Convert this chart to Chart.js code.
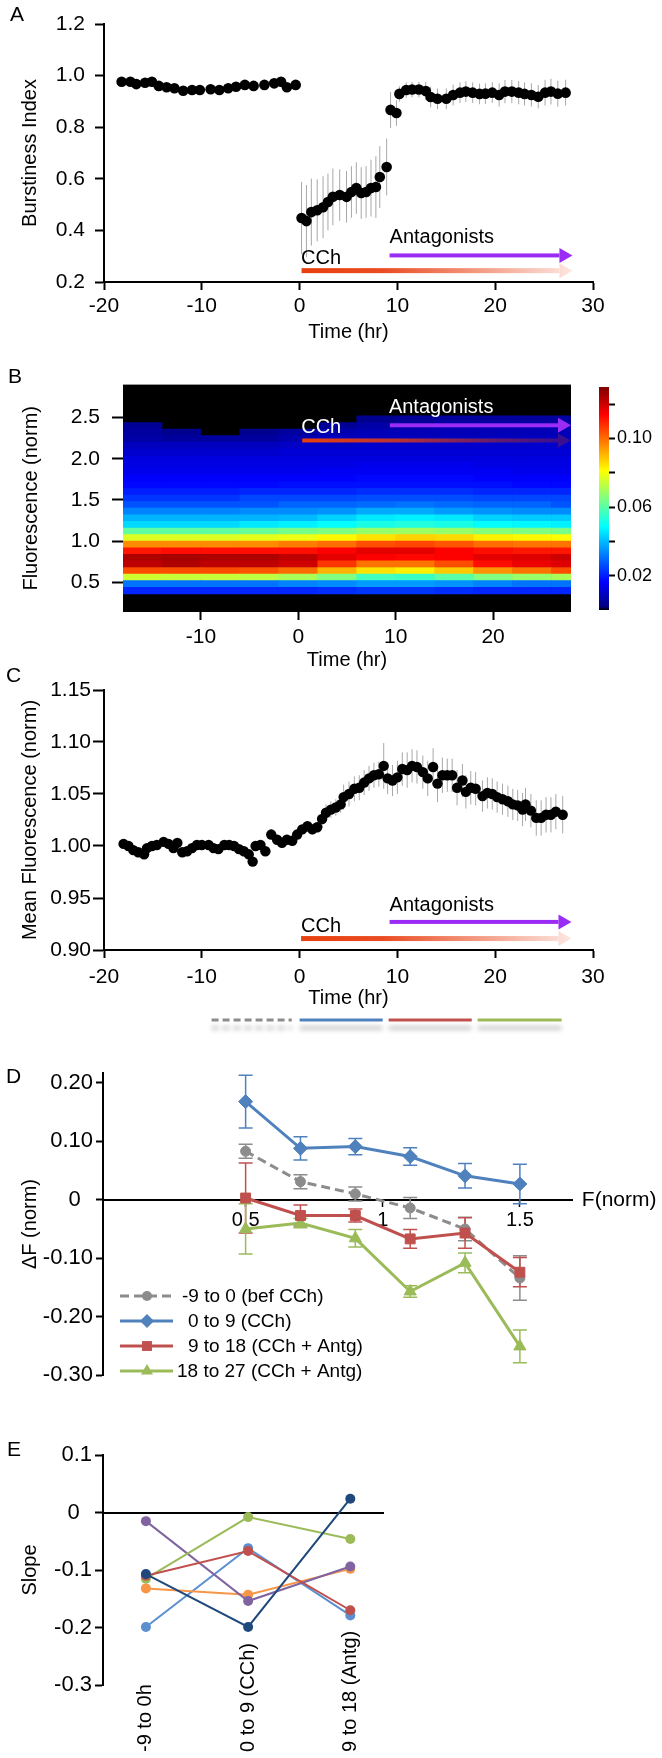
<!DOCTYPE html>
<html>
<head>
<meta charset="utf-8">
<script src="https://cdn.jsdelivr.net/npm/chart.js@4.4.1/dist/chart.umd.min.js"></script>
<style>
  body { margin: 0; background: #fff; }
  #fig { position: relative; width: 662px; height: 1758px; overflow: hidden; background: #fff;
         font-family: 'Liberation Sans', Arial, sans-serif; }
  #fig canvas { position: absolute; }
  .lbl { position: absolute; font-size: 21px; line-height: 21px; color: #000; }
</style>
</head>
<body>
<div id="fig">
  <canvas id="chartA" width="662" height="345" style="left:0;top:0"></canvas>
  <canvas id="chartB" width="662" height="312" style="left:0;top:360px"></canvas>
  <canvas id="chartCb" width="102" height="312" style="left:560px;top:360px"></canvas>
  <canvas id="chartC" width="662" height="370" style="left:0;top:672px"></canvas>
  <canvas id="chartD" width="662" height="350" style="left:0;top:1045px"></canvas>
  <canvas id="chartE" width="662" height="358" style="left:0;top:1400px"></canvas>
  <div class="lbl" style="left:10px;top:3px">A</div>
  <div class="lbl" style="left:8px;top:365px">B</div>
  <div class="lbl" style="left:6px;top:664px">C</div>
  <div class="lbl" style="left:6px;top:1065px">D</div>
  <div class="lbl" style="left:7px;top:1438px">E</div>
</div>
<script>
// ---- Panel A: burstiness index ----
const tA = [-18.2, -17.3, -16.7, -15.8, -15.1, -14.4, -13.6, -12.8, -11.9, -11.0, -10.2, -9.1, -8.2, -7.3, -6.5, -5.6, -4.7, -3.6, -2.6, -1.9, -1.3, -0.4,
  0.2, 0.7, 1.2, 1.8, 2.4, 2.9, 3.4, 4.1, 4.8, 5.3, 5.8, 6.3, 6.8, 7.3, 7.8, 8.2, 8.9,
  9.3, 9.9, 10.2, 10.9, 11.5, 12.2, 12.9, 13.4, 14.1, 15.0, 15.7, 16.4, 17.0, 17.7, 18.4, 19.0, 19.7, 20.4, 21.0, 21.7, 22.4, 23.0, 23.7, 24.4, 25.1, 25.7, 26.4, 27.2];
const burstA = [0.976, 0.976, 0.967, 0.972, 0.976, 0.960, 0.955, 0.951, 0.941, 0.944, 0.944, 0.947, 0.944, 0.951, 0.957, 0.964, 0.960, 0.964, 0.970, 0.976, 0.955, 0.964,
  0.448, 0.436, 0.471, 0.478, 0.490, 0.510, 0.530, 0.537, 0.530, 0.549, 0.564, 0.545, 0.549, 0.564, 0.568, 0.607, 0.646,
  0.867, 0.855, 0.929, 0.944, 0.946, 0.946, 0.940, 0.917, 0.910, 0.910, 0.925, 0.934, 0.938, 0.934, 0.929, 0.930, 0.934, 0.925, 0.938, 0.938, 0.934, 0.929, 0.925, 0.918, 0.934, 0.938, 0.930, 0.934];
const burstErrA = [0.012, 0.012, 0.012, 0.012, 0.012, 0.014, 0.014, 0.015, 0.016, 0.016, 0.016, 0.016, 0.015, 0.015, 0.014, 0.014, 0.013, 0.013, 0.012, 0.012, 0.014, 0.012,
  0.14, 0.14, 0.13, 0.12, 0.12, 0.11, 0.11, 0.10, 0.10, 0.10, 0.10, 0.10, 0.10, 0.11, 0.12, 0.12, 0.11,
  0.07, 0.05, 0.03, 0.03, 0.03, 0.03, 0.035, 0.04, 0.04, 0.04, 0.04, 0.04, 0.04, 0.04, 0.04, 0.04, 0.04, 0.045, 0.045, 0.045, 0.045, 0.045, 0.045, 0.045, 0.05, 0.05, 0.05, 0.05];
const yTicksA = [0.2, 0.4, 0.6, 0.8, 1.0, 1.2];
const timeTicks = [-20, -10, 0, 10, 20, 30];

// ---- Panel B: fluorescence distribution heat map ----
const heatT = [-16, -12, -8, -4, 0, 4, 8, 12, 16, 20, 24, 28];
const heatBins = [0.36, 0.44, 0.52, 0.60, 0.68, 0.76, 0.84, 0.92, 1.00, 1.08, 1.16, 1.24, 1.32, 1.40, 1.48, 1.56, 1.64, 1.72, 1.80, 1.88, 1.96, 2.04, 2.12, 2.20, 2.28, 2.36, 2.44];
const binW = 0.08;
const heatDensity = [
  [0.021, 0.021, 0.021, 0.021, 0.021, 0.022, 0.023, 0.023, 0.022, 0.021, 0.021, 0.021],
  [0.031, 0.031, 0.031, 0.031, 0.033, 0.034, 0.036, 0.036, 0.035, 0.033, 0.031, 0.031],
  [0.075, 0.074, 0.074, 0.073, 0.070, 0.065, 0.057, 0.056, 0.060, 0.065, 0.068, 0.070],
  [0.104, 0.104, 0.104, 0.103, 0.100, 0.091, 0.085, 0.083, 0.088, 0.095, 0.099, 0.104],
  [0.122, 0.124, 0.122, 0.122, 0.120, 0.107, 0.099, 0.099, 0.104, 0.112, 0.116, 0.118],
  [0.124, 0.125, 0.124, 0.124, 0.122, 0.117, 0.114, 0.113, 0.114, 0.117, 0.118, 0.120],
  [0.111, 0.112, 0.112, 0.112, 0.112, 0.114, 0.117, 0.117, 0.114, 0.112, 0.111, 0.111],
  [0.096, 0.096, 0.096, 0.096, 0.098, 0.100, 0.104, 0.105, 0.103, 0.100, 0.099, 0.099],
  [0.077, 0.077, 0.077, 0.078, 0.079, 0.082, 0.085, 0.087, 0.086, 0.083, 0.082, 0.081],
  [0.061, 0.061, 0.061, 0.062, 0.064, 0.065, 0.068, 0.069, 0.068, 0.066, 0.065, 0.064],
  [0.044, 0.044, 0.044, 0.046, 0.047, 0.049, 0.052, 0.053, 0.052, 0.049, 0.048, 0.047],
  [0.039, 0.039, 0.039, 0.039, 0.040, 0.043, 0.046, 0.047, 0.046, 0.043, 0.042, 0.042],
  [0.033, 0.033, 0.033, 0.034, 0.034, 0.035, 0.038, 0.038, 0.036, 0.035, 0.034, 0.034],
  [0.027, 0.027, 0.027, 0.027, 0.029, 0.029, 0.030, 0.031, 0.030, 0.029, 0.029, 0.027],
  [0.023, 0.023, 0.023, 0.025, 0.025, 0.025, 0.026, 0.026, 0.026, 0.025, 0.025, 0.025],
  [0.020, 0.020, 0.020, 0.021, 0.021, 0.021, 0.022, 0.022, 0.022, 0.021, 0.021, 0.021],
  [0.017, 0.017, 0.017, 0.017, 0.018, 0.018, 0.018, 0.018, 0.018, 0.018, 0.017, 0.017],
  [0.016, 0.016, 0.016, 0.016, 0.016, 0.016, 0.017, 0.017, 0.017, 0.016, 0.016, 0.016],
  [0.014, 0.014, 0.014, 0.014, 0.014, 0.015, 0.015, 0.015, 0.015, 0.015, 0.014, 0.014],
  [0.013, 0.013, 0.013, 0.013, 0.013, 0.013, 0.014, 0.014, 0.014, 0.013, 0.013, 0.013],
  [0.012, 0.012, 0.012, 0.012, 0.012, 0.012, 0.012, 0.012, 0.012, 0.012, 0.012, 0.012],
  [0.010, 0.010, 0.010, 0.010, 0.011, 0.011, 0.011, 0.011, 0.011, 0.011, 0.011, 0.011],
  [0.008, 0.008, 0.008, 0.008, 0.009, 0.009, 0.010, 0.010, 0.010, 0.010, 0.010, 0.010],
  [0.005, 0.004, 0.004, 0.004, 0.006, 0.008, 0.008, 0.008, 0.008, 0.008, 0.008, 0.008],
  [0.004, 0.002, 0, 0.002, 0.004, 0.006, 0.007, 0.007, 0.007, 0.007, 0.007, 0.007],
  [0.003, 0, 0, 0, 0, 0.003, 0.005, 0.005, 0.006, 0.006, 0.006, 0.006],
  [0, 0, 0, 0, 0, 0, 0.002, 0.003, 0.004, 0.004, 0.004, 0.004]
];
const yTicksB = [0.5, 1.0, 1.5, 2.0, 2.5];
const xTicksB = [-10, 0, 10, 20];
const cbTicks = [0.02, 0.04, 0.06, 0.08, 0.10, 0.12];
const cbLabelled = [0.02, 0.06, 0.10];
const cbMax = 0.13;

// ---- Panel C: mean fluorescence ----
const tC = [-18, -17.5, -17, -16.5, -15.9, -15.6, -15.1, -14.6, -13.9, -13.4, -12.9, -12.5, -12, -11.5, -11, -10.5, -10, -9.3, -8.8, -8.3,
  -7.7, -7.2, -6.7, -6.2, -5.7, -5.2, -4.8, -4.5, -4.0, -3.5, -2.9, -2.3, -1.8, -1.3, -0.75, -0.25, 0.27, 0.8, 1.3, 1.8,
  2.3, 2.7, 3.2, 3.7, 4.2, 4.5, 5.05, 5.6, 6.1, 6.6, 7.1, 7.6, 8.1, 8.6, 9.0, 9.5, 10, 10.5, 11, 11.5,
  12, 12.6, 13.1, 13.65, 14.1, 14.6, 15.1, 15.6, 16.1, 16.65, 17, 17.5, 18, 18.7, 19.2, 19.7, 20.2, 20.75, 21.3, 21.8,
  22.3, 22.8, 23.1, 23.65, 24.2, 24.7, 25.2, 25.7, 26.2, 26.9];
const meanFC = [1.002, 1.000, 0.996, 0.994, 0.992, 0.998, 1.000, 1.001, 1.004, 1.002, 0.998, 1.003, 0.994, 0.995, 0.998, 1.001, 1.001, 1.001, 0.998, 0.997,
  1.001, 1.001, 1.000, 0.997, 0.995, 0.992, 0.985, 1.000, 1.001, 0.995, 1.011, 1.006, 1.003, 1.006, 1.005, 1.011, 1.016, 1.019, 1.016, 1.018,
  1.026, 1.032, 1.035, 1.037, 1.040, 1.047, 1.050, 1.055, 1.056, 1.061, 1.065, 1.068, 1.069, 1.077, 1.065, 1.063, 1.066, 1.074, 1.073, 1.077,
  1.076, 1.071, 1.065, 1.076, 1.060, 1.068, 1.068, 1.068, 1.056, 1.063, 1.052, 1.056, 1.055, 1.048, 1.051, 1.050, 1.047, 1.045, 1.043, 1.040,
  1.039, 1.035, 1.040, 1.034, 1.027, 1.027, 1.030, 1.030, 1.033, 1.030];
const meanFErrC = [0.003, 0.003, 0.003, 0.003, 0.003, 0.003, 0.003, 0.003, 0.003, 0.003, 0.003, 0.003, 0.003, 0.003, 0.003, 0.003, 0.003, 0.003, 0.003, 0.003,
  0.003, 0.003, 0.003, 0.003, 0.003, 0.003, 0.003, 0.003, 0.003, 0.003, 0.005, 0.005, 0.005, 0.005, 0.005, 0.005, 0.005, 0.005, 0.005, 0.005,
  0.008, 0.008, 0.008, 0.008, 0.008, 0.012, 0.012, 0.012, 0.012, 0.012, 0.012, 0.012, 0.012, 0.022, 0.015, 0.015, 0.016, 0.016, 0.017, 0.016,
  0.016, 0.016, 0.017, 0.018, 0.018, 0.017, 0.016, 0.016, 0.017, 0.016, 0.016, 0.016, 0.016, 0.015, 0.015, 0.015, 0.015, 0.015, 0.015, 0.015,
  0.015, 0.016, 0.016, 0.016, 0.017, 0.017, 0.017, 0.017, 0.017, 0.018];
const yTicksC = [0.90, 0.95, 1.00, 1.05, 1.10, 1.15];

// ---- Panel D: delta F vs F ----
const fNormD = [0.5, 0.7, 0.9, 1.1, 1.3, 1.5];
const dFpre = [0.083, 0.031, 0.010, -0.014, -0.050, -0.134];
const dFpreErr = [0.012, 0.012, 0.012, 0.018, 0.020, 0.038];
const dFcch = [0.168, 0.088, 0.091, 0.074, 0.041, 0.027];
const dFcchErr = [0.045, 0.020, 0.014, 0.015, 0.021, 0.034];
const dFant1 = [0.003, -0.027, -0.027, -0.067, -0.057, -0.124];
const dFant1Err = [0.060, 0.018, 0.011, 0.016, 0.026, 0.025];
const dFant2 = [-0.050, -0.040, -0.066, -0.157, -0.108, -0.251];
const dFant2Err = [0.043, 0.008, 0.015, 0.010, 0.017, 0.028];
const yTicksD = [-0.3, -0.2, -0.1, 0, 0.1, 0.2];
const xTicksD = [0.5, 1, 1.5];
const legendD = ['-9 to 0 (bef CCh)', '0 to 9 (CCh)', '9 to 18 (CCh + Antg)', '18 to 27 (CCh + Antg)'];

// ---- Panel E: slopes per culture ----
const periodsE = ['-9 to 0h', '0 to 9 (CCh)', '9 to 18 (Antg)'];
const slopeNavy = [-0.107, -0.199, 0.024];
const slopeRed = [-0.110, -0.067, -0.170];
const slopeGreen = [-0.115, -0.008, -0.046];
const slopePurple = [-0.015, -0.154, -0.094];
const slopeOrange = [-0.132, -0.143, -0.098];
const slopeBlue = [-0.199, -0.062, -0.179];
const yTicksE = [-0.3, -0.2, -0.1, 0, 0.1];

const FONT = "'Liberation Sans', Arial, sans-serif";
Chart.defaults.font.family = FONT;
Chart.defaults.font.size = 21;
Chart.defaults.color = '#000';
Chart.defaults.animation = false;
Chart.defaults.plugins.legend.display = false;
Chart.defaults.plugins.tooltip.enabled = false;

const setTicks = arr => scale => { scale.ticks = arr.map(v => ({ value: v })); };
const fixW = w => s => { s.width = w; };
const fixH = h => s => { s.height = h; };
const pts = (xs, ys) => xs.map((x, i) => ({ x: x, y: ys[i] }));

function jet(v) {
  if (!v || v <= 0) return 'rgba(0,0,0,0)';
  const f = Math.min(1, v / cbMax);
  const c = u => Math.round(255 * Math.max(0, Math.min(1, u)));
  return 'rgb(' + c(1.5 - Math.abs(4 * f - 3)) + ',' + c(1.5 - Math.abs(4 * f - 2)) + ',' + c(1.5 - Math.abs(4 * f - 1)) + ')';
}

// error bars, drawn under the markers
const errBars = {
  id: 'errBars',
  beforeDatasetsDraw(chart, args, opts) {
    const { ctx } = chart;
    const xs = chart.scales.x, ys = chart.scales.y;
    ctx.save();
    (opts.sets || []).forEach(s => {
      const data = chart.data.datasets[s.ds].data;
      ctx.strokeStyle = s.color;
      ctx.lineWidth = s.width || 1;
      data.forEach((p, i) => {
        const px = xs.getPixelForValue(p.x);
        const top = ys.getPixelForValue(p.y + s.err[i]);
        const bot = ys.getPixelForValue(p.y - s.err[i]);
        ctx.beginPath();
        ctx.moveTo(px, top); ctx.lineTo(px, bot);
        if (s.cap) {
          ctx.moveTo(px - s.cap, top); ctx.lineTo(px + s.cap, top);
          ctx.moveTo(px - s.cap, bot); ctx.lineTo(px + s.cap, bot);
        }
        ctx.stroke();
      });
    });
    ctx.restore();
  }
};

// treatment arrows and free text placed in data units
const annot = {
  id: 'annot',
  afterDatasetsDraw(chart, args, opts) {
    const { ctx } = chart;
    const xs = chart.scales.x, ys = chart.scales.y;
    ctx.save();
    (opts.arrows || []).forEach(a => {
      const x0 = xs.getPixelForValue(a.x0), x1 = xs.getPixelForValue(a.x1), y = ys.getPixelForValue(a.y);
      const g = ctx.createLinearGradient(x0, 0, x1, 0);
      a.stops.forEach(s => g.addColorStop(s[0], s[1]));
      ctx.fillStyle = g;
      ctx.fillRect(x0, y - a.w / 2, x1 - a.head - x0, a.w);
      ctx.beginPath();
      ctx.moveTo(x1 - a.head, y - a.headW / 2);
      ctx.lineTo(x1, y);
      ctx.lineTo(x1 - a.head, y + a.headW / 2);
      ctx.closePath();
      ctx.fill();
    });
    (opts.texts || []).forEach(t => {
      ctx.font = (t.size || 20) + 'px ' + FONT;
      ctx.fillStyle = t.color || '#000';
      ctx.textAlign = 'left';
      ctx.textBaseline = 'middle';
      ctx.fillText(t.text, xs.getPixelForValue(t.x), ys.getPixelForValue(t.y));
    });
    ctx.restore();
  }
};

const redStops = [[0, '#e8400f'], [0.3, '#ea4c22'], [1, '#fde6e1']];
const purpleStops = [[0, '#9b2cf5'], [1, '#9b2cf5']];

function blackAxis(extra) {
  return Object.assign({
    type: 'linear',
    grid: { drawOnChartArea: false, tickLength: 8, tickWidth: 2, tickColor: '#000' },
    border: { color: '#000', width: 2 }
  }, extra);
}

// ---------- A ----------
new Chart(document.getElementById('chartA'), {
  type: 'scatter',
  data: { datasets: [{ data: pts(tA, burstA), pointRadius: 5.3, pointBackgroundColor: '#000', pointBorderWidth: 0 }] },
  plugins: [errBars, annot],
  options: {
    responsive: false, devicePixelRatio: 1,
    layout: { padding: { left: 0, right: 69, top: 24, bottom: 0 } },
    scales: {
      x: blackAxis({
        min: -20, max: 30, afterBuildTicks: setTicks(timeTicks), afterFit: fixH(63),
        ticks: { padding: 4, maxRotation: 0, autoSkip: false },
        title: { display: true, text: 'Time (hr)', font: { size: 20 }, padding: { top: 0, bottom: 1 } }
      }),
      y: blackAxis({
        min: 0.2, max: 1.2, afterBuildTicks: setTicks(yTicksA), afterFit: fixW(104),
        ticks: { padding: 10, autoSkip: false, callback: v => v.toFixed(1) },
        grid: { drawOnChartArea: false, tickLength: 9, tickWidth: 2, tickColor: '#000' },
        title: { display: true, text: 'Burstiness Index', font: { size: 20 }, padding: { top: 18, bottom: 0 } }
      })
    },
    plugins: {
      errBars: { sets: [{ ds: 0, err: burstErrA, color: '#a8a8a8', width: 1 }] },
      annot: {
        arrows: [
          { x0: 0.2, x1: 27.9, y: 0.244, w: 5, head: 13, headW: 15, stops: redStops },
          { x0: 9.2, x1: 27.9, y: 0.303, w: 4, head: 13, headW: 15, stops: purpleStops }
        ],
        texts: [
          { text: 'CCh', x: 0.15, y: 0.292, size: 20 },
          { text: 'Antagonists', x: 9.2, y: 0.373, size: 20 }
        ]
      }
    }
  }
});

// ---------- B ----------
const heatBg = {
  id: 'heatBg',
  beforeDatasetsDraw(chart) {
    const { ctx, chartArea: a } = chart;
    ctx.save();
    ctx.fillStyle = '#000';
    ctx.fillRect(a.left, a.top, a.right - a.left, a.bottom - a.top);
    ctx.restore();
  }
};
const heatSets = heatBins.map((lo, i) => ({
  data: heatT.map(t => ({ x: t, y: [lo, lo + binW] })),
  backgroundColor: heatDensity[i].map(jet),
  borderWidth: 0,
  barPercentage: 1,
  categoryPercentage: 1,
  grouped: false
}));
new Chart(document.getElementById('chartB'), {
  type: 'bar',
  data: { datasets: heatSets },
  plugins: [heatBg, annot],
  options: {
    responsive: false, devicePixelRatio: 1,
    layout: { padding: { left: 0, right: 91, top: 22, bottom: 0 } },
    scales: {
      x: {
        type: 'linear', min: -18, max: 28, offset: false,
        afterBuildTicks: setTicks(xTicksB), afterFit: fixH(60),
        ticks: { padding: 5, maxRotation: 0, autoSkip: false },
        grid: { offset: false, drawOnChartArea: false, tickLength: 8, tickWidth: 2, tickColor: '#000' },
        border: { display: false },
        title: { display: true, text: 'Time (hr)', font: { size: 20 }, padding: { top: 0, bottom: 0 } }
      },
      y: {
        type: 'linear', min: 0.14, max: 2.9,
        afterBuildTicks: setTicks(yTicksB), afterFit: fixW(123),
        ticks: { padding: 12, autoSkip: false, callback: v => v.toFixed(1) },
        grid: { drawOnChartArea: false, tickLength: 11, tickWidth: 2, tickColor: '#000' },
        border: { display: false },
        title: { display: true, text: 'Fluorescence (norm)', font: { size: 20 }, padding: { top: 19, bottom: 0 } }
      }
    },
    plugins: {
      annot: {
        arrows: [
          { x0: 0.4, x1: 28, y: 2.222, w: 4, head: 13, headW: 14, stops: [[0, 'rgba(232,64,15,1)'], [0.35, 'rgba(232,64,15,0.8)'], [1, 'rgba(150,40,60,0.35)']] },
          { x0: 9.4, x1: 28, y: 2.406, w: 4, head: 13, headW: 15, stops: purpleStops }
        ],
        texts: [
          { text: 'CCh', x: 0.3, y: 2.375, size: 20, color: '#fff' },
          { text: 'Antagonists', x: 9.3, y: 2.62, size: 20, color: '#fff' }
        ]
      }
    }
  }
});

// colour bar for B
const cbFill = {
  id: 'cbFill',
  beforeDatasetsDraw(chart) {
    const { ctx, chartArea: a } = chart;
    const ys = chart.scales.y;
    const y0 = ys.getPixelForValue(0), y1 = ys.getPixelForValue(cbMax);
    const g = ctx.createLinearGradient(0, y0, 0, y1);
    g.addColorStop(0, '#000');
    g.addColorStop(0.015, 'rgb(0,0,128)');
    g.addColorStop(0.125, 'rgb(0,0,255)');
    g.addColorStop(0.375, 'rgb(0,255,255)');
    g.addColorStop(0.625, 'rgb(255,255,0)');
    g.addColorStop(0.875, 'rgb(255,0,0)');
    g.addColorStop(1, 'rgb(128,0,0)');
    ctx.save();
    ctx.fillStyle = g;
    ctx.fillRect(a.left, y1, a.right - a.left, y0 - y1);
    ctx.restore();
  }
};
new Chart(document.getElementById('chartCb'), {
  type: 'scatter',
  data: { datasets: [] },
  plugins: [cbFill],
  options: {
    responsive: false, devicePixelRatio: 1,
    layout: { padding: { left: 39, right: 0, top: 27, bottom: 62 } },
    scales: {
      x: { type: 'linear', display: false, min: 0, max: 1 },
      y: {
        type: 'linear', position: 'right', min: 0, max: cbMax,
        afterBuildTicks: setTicks(cbTicks), afterFit: fixW(53),
        ticks: { padding: 2, autoSkip: false, font: { size: 18 }, callback: v => cbLabelled.indexOf(v) >= 0 ? v.toFixed(2) : '' },
        grid: { drawOnChartArea: false, tickLength: 6, tickWidth: 2, tickColor: '#000' },
        border: { display: false }
      }
    }
  }
});

// ---------- C ----------
const periodBars = {
  id: 'periodBars',
  afterDraw(chart, args, opts) {
    const { ctx } = chart;
    const xs = chart.scales.x;
    ctx.save();
    ctx.lineWidth = 3;
    opts.segs.forEach(s => {
      ctx.strokeStyle = s.color;
      ctx.setLineDash(s.dash || []);
      ctx.shadowColor = 'rgba(0,0,0,0.28)';
      ctx.shadowBlur = 5;
      ctx.shadowOffsetY = 8;
      ctx.beginPath();
      ctx.moveTo(xs.getPixelForValue(s.x0), opts.py);
      ctx.lineTo(xs.getPixelForValue(s.x1), opts.py);
      ctx.stroke();
    });
    ctx.restore();
  }
};
new Chart(document.getElementById('chartC'), {
  type: 'scatter',
  data: { datasets: [{ data: pts(tC, meanFC), pointRadius: 5.2, pointBackgroundColor: '#000', pointBorderWidth: 0 }] },
  plugins: [errBars, annot, periodBars],
  options: {
    responsive: false, devicePixelRatio: 1,
    layout: { padding: { left: 0, right: 69, top: 18, bottom: 0 } },
    scales: {
      x: blackAxis({
        min: -20, max: 30, afterBuildTicks: setTicks(timeTicks), afterFit: fixH(92),
        ticks: { padding: 7, maxRotation: 0, autoSkip: false },
        title: { display: true, text: 'Time (hr)', font: { size: 20 }, padding: { top: 0, bottom: 32 } }
      }),
      y: blackAxis({
        min: 0.90, max: 1.15, afterBuildTicks: setTicks(yTicksC), afterFit: fixW(104),
        ticks: { padding: 2, autoSkip: false, callback: v => v.toFixed(2) },
        grid: { drawOnChartArea: false, tickLength: 11, tickWidth: 2, tickColor: '#000' },
        title: { display: true, text: 'Mean Fluorescence (norm)', font: { size: 20 }, padding: { top: 18, bottom: 0 } }
      })
    },
    plugins: {
      errBars: { sets: [{ ds: 0, err: meanFErrC, color: '#a8a8a8', width: 1 }] },
      annot: {
        arrows: [
          { x0: 0.15, x1: 27.8, y: 0.911, w: 5, head: 13, headW: 15, stops: redStops },
          { x0: 9.2, x1: 27.8, y: 0.927, w: 4, head: 13, headW: 15, stops: purpleStops }
        ],
        texts: [
          { text: 'CCh', x: 0.15, y: 0.923, size: 20 },
          { text: 'Antagonists', x: 9.2, y: 0.943, size: 20 }
        ]
      },
      periodBars: {
        py: 348,
        segs: [
          { x0: -9, x1: -0.8, color: '#8c8c8c', dash: [7, 4] },
          { x0: 0, x1: 8.5, color: '#4f81bd' },
          { x0: 9.1, x1: 17.6, color: '#c0504d' },
          { x0: 18.2, x1: 26.8, color: '#9bbb59' }
        ]
      }
    }
  }
});

// ---------- D ----------
const colD = { pre: '#8c8c8c', cch: '#4f81bd', ant1: '#c0504d', ant2: '#9bbb59' };
function marker(ctx, style, r, x, y) {
  ctx.beginPath();
  if (style === 'circle') ctx.arc(x, y, r, 0, Math.PI * 2);
  else if (style === 'rectRot') { ctx.moveTo(x, y - r); ctx.lineTo(x + r, y); ctx.lineTo(x, y + r); ctx.lineTo(x - r, y); }
  else if (style === 'rect') { const h = r * Math.SQRT1_2; ctx.rect(x - h, y - h, 2 * h, 2 * h); }
  else if (style === 'triangle') { ctx.moveTo(x, y - r); ctx.lineTo(x + r * 0.866, y + r * 0.5); ctx.lineTo(x - r * 0.866, y + r * 0.5); }
  ctx.closePath();
  ctx.fill();
}
const legendDPlugin = {
  id: 'legendDPlugin',
  afterDraw(chart) {
    const { ctx } = chart;
    const order = [1, 2, 0, 3];  // dataset index for each legend row
    const textX = [182, 188, 188, 177];
    ctx.save();
    order.forEach((di, k) => {
      const ds = chart.data.datasets[di];
      const y = 251 + k * 25;
      ctx.strokeStyle = ds.borderColor;
      ctx.lineWidth = 3;
      ctx.setLineDash(ds.borderDash || []);
      ctx.beginPath(); ctx.moveTo(120, y); ctx.lineTo(173, y); ctx.stroke();
      ctx.setLineDash([]);
      ctx.fillStyle = ds.borderColor;
      marker(ctx, ds.pointStyle, ds.pointRadius, 147, y);
      ctx.fillStyle = '#000';
      ctx.font = '19px ' + FONT;
      ctx.textAlign = 'left';
      ctx.textBaseline = 'middle';
      ctx.fillText(legendD[k], textX[k], y + 1);
    });
    ctx.restore();
  }
};
const lineSet = (xs, ys, color, style, r, dash) => ({
  data: pts(xs, ys), borderColor: color, backgroundColor: color, borderWidth: 3, borderDash: dash || [],
  pointStyle: style, pointRadius: r, pointBackgroundColor: color, pointBorderColor: color, pointBorderWidth: 1, tension: 0
});
new Chart(document.getElementById('chartD'), {
  type: 'line',
  data: {
    datasets: [
      lineSet(fNormD, dFant1, colD.ant1, 'rect', 7),
      lineSet(fNormD, dFpre, colD.pre, 'circle', 5, [9, 5]),
      lineSet(fNormD, dFcch, colD.cch, 'rectRot', 7),
      lineSet(fNormD, dFant2, colD.ant2, 'triangle', 7)
    ]
  },
  plugins: [errBars, annot, legendDPlugin],
  options: {
    responsive: false, devicePixelRatio: 1,
    layout: { padding: { left: 0, right: 90, top: 28, bottom: 20 } },
    scales: {
      x: blackAxis({
        min: -0.02, max: 1.69, position: { y: 0 },
        afterBuildTicks: setTicks(xTicksD), afterFit: fixH(0),
        ticks: { padding: 3, maxRotation: 0, autoSkip: false, font: { size: 20 }, callback: v => String(v) },
        grid: { drawOnChartArea: false, tickLength: 6, tickWidth: 1.5, tickColor: '#000' }
      }),
      y: blackAxis({
        min: -0.30, max: 0.217, afterBuildTicks: setTicks(yTicksD), afterFit: fixW(103),
        ticks: { padding: 3, autoSkip: false, font: { size: 22 }, callback: v => v === 0 ? '0  ' : v.toFixed(2) },
        grid: { drawOnChartArea: false, tickLength: 7, tickWidth: 2, tickColor: '#000' },
        title: { display: true, text: 'ΔF (norm)', font: { size: 20 }, padding: { top: 18, bottom: 0 } }
      })
    },
    plugins: {
      errBars: {
        sets: [
          { ds: 1, err: dFpreErr, color: colD.pre, width: 1.5, cap: 7 },
          { ds: 2, err: dFcchErr, color: colD.cch, width: 1.5, cap: 7 },
          { ds: 0, err: dFant1Err, color: colD.ant1, width: 1.5, cap: 7 },
          { ds: 3, err: dFant2Err, color: colD.ant2, width: 1.5, cap: 7 }
        ]
      },
      annot: { texts: [{ text: 'F(norm)', x: 1.726, y: 0, size: 21 }] }
    }
  }
});

// ---------- E ----------
const periodLabels = {
  id: 'periodLabels',
  afterDraw(chart, args, opts) {
    const { ctx } = chart;
    const xs = chart.scales.x;
    ctx.save();
    ctx.font = '20px ' + FONT;
    ctx.fillStyle = '#000';
    ctx.textAlign = 'left';
    ctx.textBaseline = 'middle';
    periodsE.forEach((lab, i) => {
      ctx.save();
      ctx.translate(xs.getPixelForValue(i), opts.py);
      ctx.rotate(-Math.PI / 2);
      ctx.fillText(lab, 0, 0);
      ctx.restore();
    });
    ctx.restore();
  }
};
const idxE = [0, 1, 2];
const slopeSet = (ys, color) => ({
  data: pts(idxE, ys), borderColor: color, backgroundColor: color, borderWidth: 2,
  pointRadius: 5, pointBackgroundColor: color, pointBorderWidth: 0, tension: 0
});
new Chart(document.getElementById('chartE'), {
  type: 'line',
  data: {
    datasets: [
      slopeSet(slopeNavy, '#1f497d'),
      slopeSet(slopeRed, '#c0504d'),
      slopeSet(slopeGreen, '#9bbb59'),
      slopeSet(slopePurple, '#8064a2'),
      slopeSet(slopeOrange, '#f79646'),
      slopeSet(slopeBlue, '#5b8fd0')
    ]
  },
  plugins: [periodLabels],
  options: {
    responsive: false, devicePixelRatio: 1,
    layout: { padding: { left: 0, right: 279, top: 55, bottom: 73 } },
    scales: {
      x: {
        type: 'linear', min: -0.42, max: 2.32, position: { y: 0 }, afterFit: fixH(0),
        ticks: { display: false },
        grid: { display: false },
        border: { display: true, color: '#000', width: 2 }
      },
      y: blackAxis({
        min: -0.3, max: 0.1, afterBuildTicks: setTicks(yTicksE), afterFit: fixW(103),
        ticks: { padding: 3, autoSkip: false, font: { size: 22 }, callback: v => v === 0 ? '0  ' : v.toFixed(1) },
        grid: { drawOnChartArea: false, tickLength: 8, tickWidth: 2, tickColor: '#000' },
        title: { display: true, text: 'Slope', font: { size: 20 }, padding: { top: 18, bottom: 0 } }
      })
    },
    plugins: { periodLabels: { py: 352 } }
  }
});
</script>
</body>
</html>
